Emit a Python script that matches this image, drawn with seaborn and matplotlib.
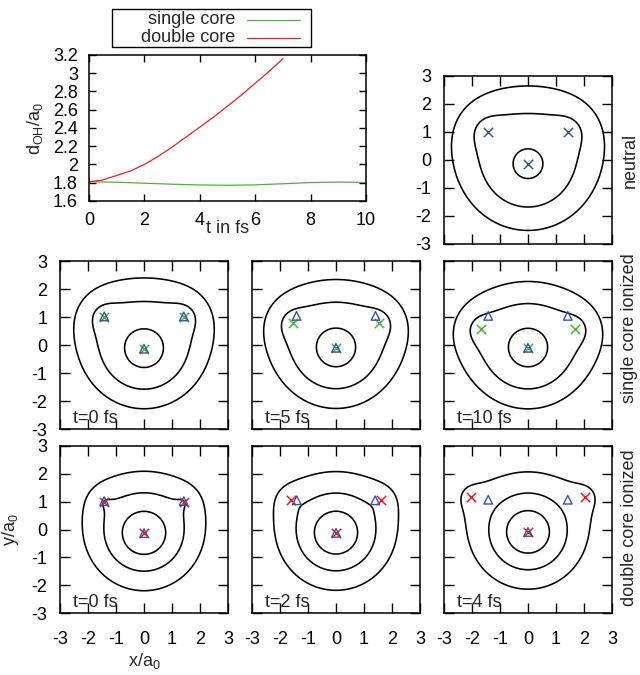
import numpy as np
import matplotlib
matplotlib.use("Agg")
import matplotlib.pyplot as plt
import seaborn as sns
from matplotlib.lines import Line2D
from matplotlib.patches import Rectangle

# ---------------- data: bond length d_OH(t) ----------------
t_single = [0, 1, 2, 3, 4, 5, 6, 7, 8, 9, 10]
d_single = [1.812, 1.806, 1.795, 1.784, 1.776, 1.772, 1.777, 1.789, 1.802, 1.808, 1.803]
t_double = [0, 0.5, 1, 1.5, 2, 2.5, 3, 3.5, 4, 4.5, 5, 5.5, 6, 6.5, 7]
d_double = [1.81, 1.83, 1.88, 1.93, 2.00, 2.09, 2.19, 2.30, 2.41, 2.52, 2.64, 2.76, 2.89, 3.02, 3.16]
legend_labels = ["single core", "double core"]
t_ticks = [0, 2, 4, 6, 8, 10]
d_ticks = [1.6, 1.8, 2.0, 2.2, 2.4, 2.6, 2.8, 3.0, 3.2]
d_ticklabels = ["1.6", "1.8", "2", "2.2", "2.4", "2.6", "2.8", "3", "3.2"]

# ---------------- data: molecular geometries per panel ----------------
panel_time = ["", "t=0 fs", "t=5 fs", "t=10 fs", "t=0 fs", "t=2 fs", "t=4 fs"]
panel_row = [0, 1, 1, 1, 2, 2, 2]
# atom positions at time t (crosses)
O_x = [0.0, 0.0, 0.0, 0.0, 0.0, 0.0, 0.0]
O_y = [-0.14, -0.13, -0.10, -0.10, -0.13, -0.12, -0.09]
H_x = [1.42, 1.42, 1.53, 1.68, 1.42, 1.62, 2.03]
H_y = [1.00, 1.00, 0.78, 0.57, 1.00, 1.05, 1.18]
# reference positions (open triangles)
tri_Hx = [None, 1.42, 1.41, 1.42, 1.42, 1.40, 1.42]
tri_Hy = [None, 1.02, 1.04, 1.04, 1.02, 1.05, 1.07]
tri_Oy = [None, -0.13, -0.10, -0.10, -0.13, -0.12, -0.09]
# potential model per row: O charge, H charge, H softening, contour levels
row_names = ["neutral", "single core ionized", "double core ionized"]
row_qO = [8.0, 8.0, 8.0]
row_qH = [1.3, 1.3, 0.5]
row_sH = [0.4, 0.4, 0.3]
row_levels = [[4.05, 6.05, 16.5], [4.45, 6.4, 13.0], [4.15, 6.2, 10.9]]
xy_ticks = [-3, -2, -1, 0, 1, 2, 3]

# ---------------- style ----------------
sns.set_theme(style="ticks")
plt.rcParams["font.family"] = ["Liberation Sans", "DejaVu Sans"]
plt.rcParams["mathtext.fontset"] = "custom"
plt.rcParams["mathtext.rm"] = "Liberation Sans"
plt.rcParams["mathtext.it"] = "Liberation Sans:italic"
FS = 13
GREEN = "#4db33d"
RED = "#ee1c1c"
BLUE = "#3354aa"
W, H = 640, 675

fig = plt.figure(figsize=(6.4, 6.75), dpi=100)


def rect(l, t, r, b):
    return [l / W, 1 - b / H, (r - l) / W, (b - t) / H]


# ---------------- line plot ----------------
ax0 = fig.add_axes(rect(89, 55, 366, 201))
sns.lineplot(x=t_single, y=d_single, color=GREEN, lw=0.9, ax=ax0)
sns.lineplot(x=t_double, y=d_double, color=RED, lw=0.9, ax=ax0)
ax0.set_xlim(0, 10)
ax0.set_ylim(1.6, 3.2)
ax0.set_xticks(t_ticks)
ax0.set_yticks(d_ticks)
ax0.set_yticklabels(d_ticklabels)
ax0.tick_params(direction="in", top=True, right=True, length=5, width=1.0,
                labelsize=FS, colors="black")
ax0.tick_params(axis="x", pad=8)
ax0.tick_params(axis="y", pad=8)
for sp in ax0.spines.values():
    sp.set_linewidth(1.1)
    sp.set_color("black")
ax0.set_xlabel("t in fs", fontsize=FS, va="top")
ax0.xaxis.set_label_coords(0.5, -0.13)
ax0.set_ylabel(r"d$_{\mathrm{OH}}$/a$_0$", fontsize=FS)
ax0.yaxis.set_label_coords(-0.16, 0.5)

# legend (gnuplot style, outside top)
fig.add_artist(Rectangle((112 / W, 1 - 47 / H), 199 / W, 38 / H, transform=fig.transFigure,
                         fill=False, lw=1.0, ec="black"))
for lab, col, yy in zip(legend_labels, [GREEN, RED], [20, 38]):
    fig.text(235 / W, 1 - yy / H, lab, ha="right", va="center", fontsize=FS)
    fig.add_artist(Line2D([247 / W, 300 / W], [1 - yy / H] * 2, transform=fig.transFigure,
                          color=col, lw=0.9))

# ---------------- contour panels ----------------
gx = np.linspace(-3.6, 3.6, 481)
X, Y = np.meshgrid(gx, gx)

panel_rects = [
    (444, 76, 612, 244),
    (60, 261, 228, 429), (252, 261, 420, 429), (444, 261, 612, 429),
    (60, 446, 228, 613), (252, 446, 420, 613), (444, 446, 612, 613),
]
cross_colors = [BLUE, GREEN, GREEN, GREEN, RED, RED, RED]

for i, pr in enumerate(panel_rects):
    ax = fig.add_axes(rect(*pr))
    r = panel_row[i]
    rO = np.sqrt((X - O_x[i]) ** 2 + (Y - O_y[i]) ** 2 + 0.02 ** 2)
    rH1 = np.sqrt((X - H_x[i]) ** 2 + (Y - H_y[i]) ** 2 + row_sH[r] ** 2)
    rH2 = np.sqrt((X + H_x[i]) ** 2 + (Y - H_y[i]) ** 2 + row_sH[r] ** 2)
    Z = row_qO[r] / rO + row_qH[r] / rH1 + row_qH[r] / rH2
    ax.contour(X, Y, Z, levels=row_levels[r], colors="black", linewidths=1.15)

    cx = [-H_x[i], H_x[i], O_x[i]]
    cy = [H_y[i], H_y[i], O_y[i]]
    sns.scatterplot(x=cx, y=cy, marker="x", s=45, color=cross_colors[i],
                    linewidth=1.1, ax=ax, zorder=3)
    if tri_Hx[i] is not None:
        ax.scatter([-tri_Hx[i], tri_Hx[i], 0.0], [tri_Hy[i], tri_Hy[i], tri_Oy[i]],
                   marker="^", s=38, facecolors="none", edgecolors=BLUE,
                   linewidths=1.0, zorder=4)
    if panel_time[i]:
        ax.text(0.08, 0.035, panel_time[i], transform=ax.transAxes, fontsize=FS,
                ha="left", va="baseline")

    ax.set_xlim(-3, 3)
    ax.set_ylim(-3, 3)
    ax.set_xticks(xy_ticks)
    ax.set_yticks(xy_ticks)
    ax.set_xticklabels([str(v) for v in xy_ticks])
    ax.set_yticklabels([str(v) for v in xy_ticks])
    ax.tick_params(direction="in", top=True, right=True, length=7, width=1.0,
                   labelsize=FS, colors="black")
    ax.tick_params(axis="y", pad=9)
    ax.tick_params(axis="x", pad=13)
    for sp in ax.spines.values():
        sp.set_linewidth(1.1)
        sp.set_color("black")
    ax.set_xlabel("")
    ax.set_ylabel("")
    show_y = i in (0, 1, 4)
    show_x = i in (4, 5, 6)
    ax.tick_params(labelleft=show_y, labelbottom=show_x)
    if i == 4:
        ax.set_xlabel(r"x/a$_0$", fontsize=FS, va="top")
        ax.xaxis.set_label_coords(0.5, -0.225)
        ax.set_ylabel(r"y/a$_0$", fontsize=FS)
        ax.yaxis.set_label_coords(-0.235, 0.5)

# row labels on the right
for name, yc in zip(row_names, [160, 328, 528]):
    fig.text(630 / W, 1 - yc / H, name, rotation=90, ha="center", va="center", fontsize=FS)

fig.savefig("out.png", dpi=100)
